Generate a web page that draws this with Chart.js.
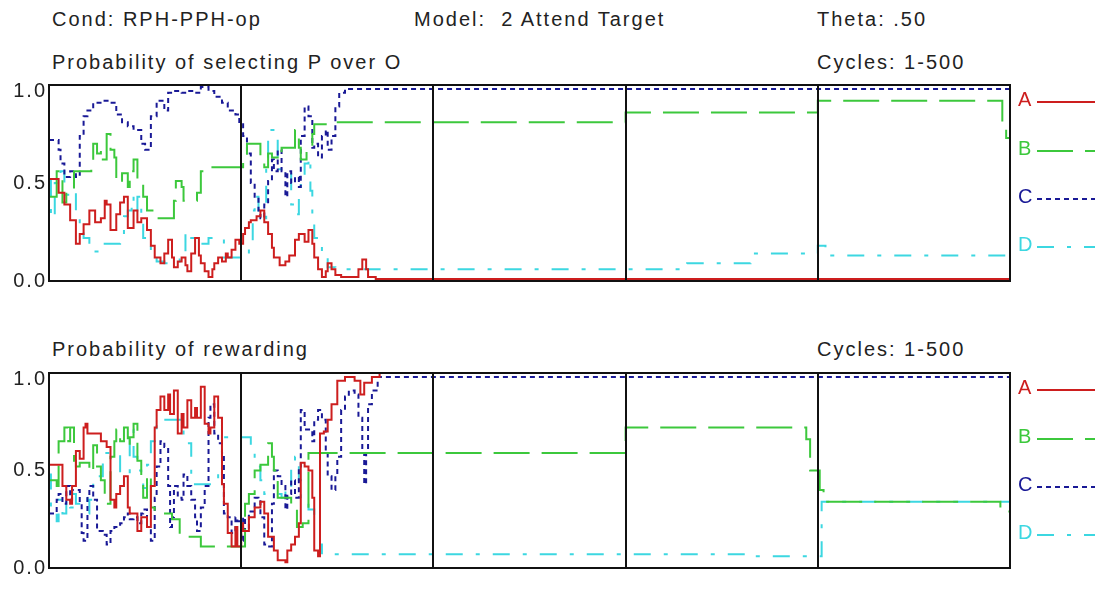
<!DOCTYPE html>
<html>
<head>
<meta charset="utf-8">
<script src="https://cdn.jsdelivr.net/npm/chart.js@4.4.0/dist/chart.umd.min.js"></script>
<style>
body { margin:0; background:#fff; width:1095px; height:592px; position:relative; overflow:hidden;
       font-family:"Liberation Sans", Arial, sans-serif; }
.t { position:absolute; font-size:20px; line-height:22px; letter-spacing:2px; color:#222; white-space:pre; }
canvas { position:absolute; left:0; }
</style>
</head>
<body>
<div class="t" style="left:52px;top:8px">Cond: RPH-PPH-op</div>
<div class="t" style="left:414px;top:8px">Model:  2 Attend Target</div>
<div class="t" style="left:817px;top:8px">Theta: .50</div>
<div class="t" style="left:52px;top:51px">Probability of selecting P over O</div>
<div class="t" style="left:817px;top:51px">Cycles: 1-500</div>
<div class="t" style="left:52px;top:338px">Probability of rewarding</div>
<div class="t" style="left:817px;top:338px">Cycles: 1-500</div>

<canvas id="selChart" width="1095" height="230" style="top:70px"></canvas>
<canvas id="rewChart" width="1095" height="230" style="top:358px"></canvas>

<script>
// series labels and the cycle range
var labels = ['A', 'B', 'C', 'D'];
var cycleMin = 0, cycleMax = 500;
var dividers = [100, 200, 300, 400];
var yTicks = [1.0, 0.5, 0.0];

// probability of selecting P over O : [cycle, value]
var selA = [[0,.52],[2,.52],[5,.45],[8,.39],[11,.31],[14,.19],[16,.24],[18,.29],[21,.36],[24,.30],[27,.32],[29,.41],[30,.39],[32,.26],[35,.34],[37,.40],[39,.43],[41,.27],[44,.36],[46,.30],[48,.32],[51,.26],[53,.18],[55,.12],[58,.09],[60,.14],[62,.21],[64,.12],[65,.07],[67,.10],[69,.12],[71,.08],[72,.05],[74,.14],[76,.22],[78,.13],[79,.09],[81,.05],[83,.02],[85,.06],[86,.09],[88,.12],[90,.10],[92,.14],[93,.12],[95,.16],[97,.21],[99,.19],[101,.24],[102,.27],[104,.30],[105,.31],[108,.33],[110,.36],[112,.30],[114,.24],[116,.17],[117,.12],[120,.08],[123,.10],[125,.13],[128,.21],[130,.24],[131,.24],[133,.20],[135,.26],[137,.19],[138,.12],[140,.06],[142,.02],[144,.05],[145,.09],[147,.06],[149,.03],[152,.02],[159,.02],[161,.06],[163,.11],[165,.06],[166,.02],[170,.01],[500,.01]];
var selB = [[0,.43],[2,.43],[4,.56],[7,.40],[9,.47],[13,.56],[22,.58],[23,.70],[25,.65],[27,.67],[28,.62],[30,.75],[32,.67],[34,.63],[35,.50],[38,.55],[41,.48],[42,.56],[44,.62],[46,.51],[48,.50],[49,.43],[51,.36],[55,.32],[65,.41],[66,.51],[69,.48],[70,.41],[77,.45],[79,.56],[83,.58],[101,.62],[103,.70],[110,.63],[112,.58],[114,.65],[116,.63],[119,.62],[121,.68],[128,.77],[130,.68],[131,.62],[134,.67],[137,.75],[138,.80],[146,.81],[300,.86],[400,.92],[496,.80],[498,.73],[500,.73]];
var selC = [[0,.72],[2,.72],[5,.67],[6,.60],[8,.53],[11,.56],[14,.53],[16,.74],[18,.84],[20,.87],[23,.91],[28,.92],[32,.91],[35,.85],[38,.81],[41,.79],[44,.77],[48,.70],[50,.67],[53,.84],[56,.92],[60,.87],[62,.96],[65,.97],[69,.96],[72,.97],[76,.96],[79,.99],[83,.97],[86,.94],[90,.91],[93,.87],[97,.85],[99,.80],[101,.74],[103,.65],[105,.50],[107,.43],[109,.36],[110,.32],[112,.39],[114,.51],[116,.62],[117,.56],[119,.67],[121,.56],[123,.43],[124,.56],[126,.50],[128,.53],[130,.48],[131,.74],[133,.89],[135,.84],[137,.68],[138,.70],[140,.63],[142,.74],[144,.77],[145,.67],[147,.74],[149,.89],[151,.96],[154,.98],[500,.98]];
var selD = [[0,.51],[1,.32],[3,.50],[6,.56],[8,.44],[10,.43],[12,.45],[14,.34],[16,.27],[18,.22],[21,.19],[23,.15],[26,.19],[37,.20],[39,.33],[41,.36],[43,.43],[44,.36],[46,.43],[48,.33],[49,.22],[53,.15],[56,.10],[60,.09],[68,.15],[71,.25],[74,.22],[76,.19],[83,.22],[91,.12],[104,.19],[106,.36],[107,.43],[109,.32],[113,.63],[114,.77],[119,.57],[123,.55],[126,.39],[128,.34],[130,.43],[131,.50],[133,.60],[135,.63],[136,.46],[137,.32],[138,.22],[142,.12],[145,.07],[149,.06],[332,.09],[365,.14],[400,.18],[404,.13],[500,.13]];

// probability of rewarding : [cycle, value]
var rewA = [[0,.53],[6,.53],[7,.42],[9,.35],[11,.33],[12,.42],[14,.60],[16,.56],[18,.72],[19,.74],[20,.69],[27,.65],[30,.62],[32,.35],[34,.31],[35,.38],[37,.42],[39,.47],[41,.31],[42,.28],[46,.19],[48,.26],[51,.21],[53,.42],[55,.72],[56,.81],[58,.88],[60,.81],[62,.89],[63,.79],[65,.91],[67,.69],[69,.79],[70,.72],[72,.86],[74,.77],[76,.82],[77,.77],[79,.93],[81,.74],[83,.69],[84,.72],[86,.88],[88,.77],[90,.43],[91,.33],[93,.18],[95,.11],[97,.21],[98,.11],[100,.23],[101,.19],[104,.26],[107,.31],[110,.34],[112,.28],[114,.16],[117,.09],[119,.04],[123,.03],[124,.09],[126,.12],[128,.16],[130,.23],[131,.54],[133,.52],[135,.50],[137,.36],[138,.09],[140,.06],[141,.69],[143,.70],[145,.76],[147,.84],[150,.96],[154,.98],[159,.96],[162,.89],[164,.95],[168,.98],[172,1.0],[500,1.0]];
var rewB = [[0,.45],[2,.45],[4,.42],[5,.65],[8,.72],[10,.65],[11,.72],[13,.55],[14,.52],[16,.54],[21,.49],[23,.63],[25,.52],[27,.45],[29,.33],[32,.57],[34,.65],[35,.71],[37,.65],[39,.72],[41,.62],[42,.67],[44,.74],[46,.55],[48,.47],[49,.36],[51,.48],[53,.31],[55,.28],[64,.25],[68,.16],[79,.11],[102,.33],[104,.38],[107,.50],[110,.53],[114,.64],[116,.57],[117,.50],[119,.36],[126,.33],[129,.21],[132,.23],[135,.59],[300,.72],[394,.66],[396,.50],[401,.40],[403,.34],[495,.29],[500,.29]];
var rewC = [[0,.28],[2,.28],[4,.35],[5,.38],[7,.33],[9,.42],[11,.35],[12,.40],[16,.33],[17,.18],[18,.14],[20,.37],[21,.42],[23,.35],[25,.19],[28,.17],[30,.12],[32,.19],[34,.21],[37,.23],[39,.26],[41,.28],[42,.25],[44,.26],[46,.23],[48,.28],[49,.30],[51,.21],[53,.14],[55,.36],[56,.52],[58,.65],[60,.62],[62,.42],[63,.21],[64,.26],[65,.42],[67,.36],[69,.35],[70,.48],[72,.42],[74,.35],[76,.26],[77,.19],[79,.31],[81,.42],[83,.77],[84,.84],[86,.69],[88,.64],[90,.59],[91,.28],[93,.26],[95,.18],[97,.26],[98,.24],[100,.14],[101,.26],[102,.19],[104,.29],[107,.36],[109,.35],[110,.26],[112,.12],[114,.11],[116,.33],[117,.50],[119,.47],[121,.42],[123,.30],[124,.38],[126,.45],[128,.36],[130,.52],[131,.81],[133,.71],[137,.65],[138,.76],[140,.81],[142,.76],[144,.59],[145,.47],[147,.40],[149,.48],[150,.57],[152,.81],[154,.88],[156,.91],[159,.89],[161,.77],[163,.59],[164,.43],[165,.59],[166,.84],[168,.91],[171,.98],[500,.98]];
var rewD = [[0,.48],[1,.31],[4,.24],[5,.35],[7,.28],[9,.35],[11,.31],[13,.38],[14,.33],[18,.36],[20,.28],[21,.35],[23,.45],[25,.47],[28,.59],[37,.48],[42,.71],[44,.57],[46,.50],[48,.48],[49,.41],[51,.53],[53,.65],[56,.76],[70,.67],[72,.64],[74,.43],[88,.53],[90,.67],[105,.62],[107,.55],[109,.52],[110,.45],[112,.38],[121,.36],[123,.41],[124,.36],[126,.55],[128,.57],[130,.45],[131,.35],[135,.30],[138,.26],[141,.12],[142,.07],[365,.06],[402,.34],[500,.34]];

var colors = ['rgb(205,30,30)', 'rgb(60,200,60)', 'rgb(25,25,150)', 'rgb(60,215,225)'];
var dashes = [[], [36, 12], [5, 4], [17, 13, 4, 13]];
var legendOffsets = [15, 64, 112, 160];

function toPoints(arr) {
	return arr.map(function(p) { return { x: p[0], y: p[1] }; });
}

var framePlugin = {
	id: 'frame',
	afterDatasetsDraw: function(chart) {
		var ctx = chart.ctx;
		var area = chart.chartArea;
		var xs = chart.scales.x, ys = chart.scales.y;
		ctx.save();
		ctx.strokeStyle = '#111';
		ctx.lineWidth = 2;
		dividers.forEach(function(c) {
			var px = Math.round(xs.getPixelForValue(c));
			ctx.beginPath();
			ctx.moveTo(px, area.top);
			ctx.lineTo(px, area.bottom);
			ctx.stroke();
		});
		ctx.strokeRect(area.left, area.top, area.right - area.left, area.bottom - area.top);

		ctx.font = '20px "Liberation Sans", Arial, sans-serif';
		ctx.letterSpacing = '2px';
		ctx.fillStyle = '#222';
		ctx.textAlign = 'right';
		ctx.textBaseline = 'middle';
		yTicks.forEach(function(v) {
			var py = Math.max(ys.getPixelForValue(v), area.top + 6);
			ctx.fillText(v.toFixed(1), area.left - 2, py);
		});

		ctx.textAlign = 'left';
		chart.data.datasets.forEach(function(ds, i) {
			var cy = area.top + legendOffsets[i];
			ctx.fillStyle = ds.borderColor;
			ctx.fillText(ds.label, area.right + 8, cy);
			ctx.strokeStyle = ds.borderColor;
			ctx.lineWidth = 2;
			ctx.setLineDash(ds.borderDash);
			ctx.beginPath();
			ctx.moveTo(area.right + 27, cy + 2);
			ctx.lineTo(1095, cy + 2);
			ctx.stroke();
			ctx.setLineDash([]);
		});
		ctx.restore();
	}
};

function makeChart(id, series, padBottom) {
	var datasets = series.map(function(s, i) {
		return {
			label: labels[i],
			data: toPoints(s),
			borderColor: colors[i],
			borderDash: dashes[i],
			borderWidth: 2,
			pointRadius: 0,
			stepped: 'before',
			fill: false
		};
	});
	return new Chart(document.getElementById(id), {
		type: 'line',
		data: { datasets: datasets },
		options: {
			responsive: false,
			animation: false,
			layout: { padding: { left: 49, right: 85, top: 15, bottom: padBottom } },
			scales: {
				x: { type: 'linear', min: cycleMin, max: cycleMax, display: false },
				y: { min: 0, max: 1, display: false }
			},
			plugins: { legend: { display: false }, tooltip: { enabled: false } }
		},
		plugins: [framePlugin]
	});
}

makeChart('selChart', [selA, selB, selC, selD], 19);
makeChart('rewChart', [rewA, rewB, rewC, rewD], 20);
</script>
</body>
</html>
